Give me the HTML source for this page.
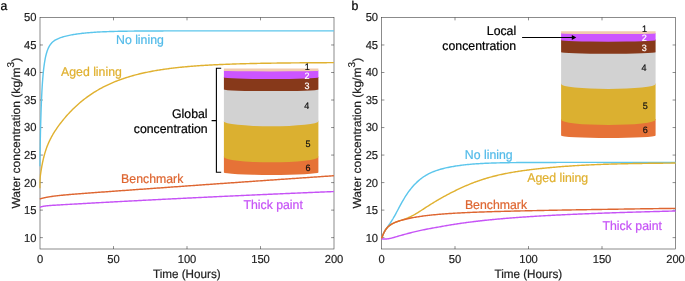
<!DOCTYPE html>
<html lang="en">
<head>
<meta charset="utf-8">
<title>Water concentration vs time</title>
<style>
html,body{margin:0;padding:0;background:#fff;}
body{width:685px;height:281px;overflow:hidden;}
svg{display:block;}
text{font-family:"Liberation Sans","Helvetica","Arial",sans-serif;color:#222222;fill:currentColor;stroke:currentColor;stroke-width:0.22px;stroke-linejoin:round;text-rendering:geometricPrecision;}
.t{font-size:12.3px;}
.k{font-size:11.2px;stroke-width:0.18px;}
.l{stroke-width:0.2px;}
.b{color:#000;}
.d{font-size:9.0px;text-anchor:middle;stroke-width:0.2px;}
.ax{fill:none;stroke:#3a3a3a;stroke-width:0.58;}
.tk{fill:none;stroke:#3a3a3a;stroke-width:0.58;}
.c{fill:none;stroke-width:1.42;stroke-linejoin:round;stroke-linecap:butt;}
</style>
</head>
<body>
<svg width="685" height="281" viewBox="0 0 685 281">
<rect x="0" y="0" width="685" height="281" fill="#ffffff"/>

<g id="axes-a">
<rect class="ax" x="40.0" y="17.45" width="294.00" height="231.55"/>
<path class="tk" d="M40.0,237.64h2.9M334.0,237.64h-2.9M40.0,210.12h2.9M334.0,210.12h-2.9M40.0,182.59h2.9M334.0,182.59h-2.9M40.0,155.07h2.9M334.0,155.07h-2.9M40.0,127.55h2.9M334.0,127.55h-2.9M40.0,100.02h2.9M334.0,100.02h-2.9M40.0,72.50h2.9M334.0,72.50h-2.9M40.0,44.97h2.9M334.0,44.97h-2.9M113.50,17.45v2.9M113.50,249.00v-2.9M187.00,17.45v2.9M187.00,249.00v-2.9M260.50,17.45v2.9M260.50,249.00v-2.9"/>
<text class="k" text-anchor="end" transform="translate(36.40 242.02) scale(1 1.033)">10</text>
<text class="k" text-anchor="end" transform="translate(36.40 214.38) scale(1 1.033)">15</text>
<text class="k" text-anchor="end" transform="translate(36.40 186.74) scale(1 1.033)">20</text>
<text class="k" text-anchor="end" transform="translate(36.40 159.10) scale(1 1.033)">25</text>
<text class="k" text-anchor="end" transform="translate(36.40 131.46) scale(1 1.033)">30</text>
<text class="k" text-anchor="end" transform="translate(36.40 103.82) scale(1 1.033)">35</text>
<text class="k" text-anchor="end" transform="translate(36.40 76.18) scale(1 1.033)">40</text>
<text class="k" text-anchor="end" transform="translate(36.40 48.54) scale(1 1.033)">45</text>
<text class="k" text-anchor="end" transform="translate(36.40 20.90) scale(1 1.033)">50</text>
<text class="k" text-anchor="middle" transform="translate(40.00 262.65) scale(1 1.033)">0</text>
<text class="k" text-anchor="middle" transform="translate(113.50 262.65) scale(1 1.033)">50</text>
<text class="k" text-anchor="middle" transform="translate(187.00 262.65) scale(1 1.033)">100</text>
<text class="k" text-anchor="middle" transform="translate(260.50 262.65) scale(1 1.033)">150</text>
<text class="k" text-anchor="middle" transform="translate(334.00 262.65) scale(1 1.033)">200</text>
<text class="t l" style="font-size:11.7px" text-anchor="middle" transform="translate(186.80 277.70) scale(1 1.033)">Time (Hours)</text>
<text class="t l" style="font-size:11.7px" text-anchor="middle" transform="translate(19.70,133.20) rotate(-90) scale(1.033 1)">Water concentration (kg/m<tspan style="font-size:9.8px" dy="-6.2">3</tspan><tspan dy="6.2">)</tspan></text>
</g>
<g id="axes-b">
<rect class="ax" x="381.5" y="17.45" width="294.00" height="231.55"/>
<path class="tk" d="M381.5,237.64h2.9M675.5,237.64h-2.9M381.5,210.12h2.9M675.5,210.12h-2.9M381.5,182.59h2.9M675.5,182.59h-2.9M381.5,155.07h2.9M675.5,155.07h-2.9M381.5,127.55h2.9M675.5,127.55h-2.9M381.5,100.02h2.9M675.5,100.02h-2.9M381.5,72.50h2.9M675.5,72.50h-2.9M381.5,44.97h2.9M675.5,44.97h-2.9M455.00,17.45v2.9M455.00,249.00v-2.9M528.50,17.45v2.9M528.50,249.00v-2.9M602.00,17.45v2.9M602.00,249.00v-2.9"/>
<text class="k" text-anchor="end" transform="translate(378.10 242.02) scale(1 1.033)">10</text>
<text class="k" text-anchor="end" transform="translate(378.10 214.38) scale(1 1.033)">15</text>
<text class="k" text-anchor="end" transform="translate(378.10 186.74) scale(1 1.033)">20</text>
<text class="k" text-anchor="end" transform="translate(378.10 159.10) scale(1 1.033)">25</text>
<text class="k" text-anchor="end" transform="translate(378.10 131.46) scale(1 1.033)">30</text>
<text class="k" text-anchor="end" transform="translate(378.10 103.82) scale(1 1.033)">35</text>
<text class="k" text-anchor="end" transform="translate(378.10 76.18) scale(1 1.033)">40</text>
<text class="k" text-anchor="end" transform="translate(378.10 48.54) scale(1 1.033)">45</text>
<text class="k" text-anchor="end" transform="translate(378.10 20.90) scale(1 1.033)">50</text>
<text class="k" text-anchor="middle" transform="translate(381.50 262.65) scale(1 1.033)">0</text>
<text class="k" text-anchor="middle" transform="translate(455.00 262.65) scale(1 1.033)">50</text>
<text class="k" text-anchor="middle" transform="translate(528.50 262.65) scale(1 1.033)">100</text>
<text class="k" text-anchor="middle" transform="translate(602.00 262.65) scale(1 1.033)">150</text>
<text class="k" text-anchor="middle" transform="translate(675.50 262.65) scale(1 1.033)">200</text>
<text class="t l" style="font-size:11.7px" text-anchor="middle" transform="translate(528.30 277.70) scale(1 1.033)">Time (Hours)</text>
<text class="t l" style="font-size:11.7px" text-anchor="middle" transform="translate(361.40,133.20) rotate(-90) scale(1.033 1)">Water concentration (kg/m<tspan style="font-size:9.8px" dy="-6.2">3</tspan><tspan dy="6.2">)</tspan></text>
</g>
<clipPath id="clip-a"><rect x="39.3" y="17.45" width="295.20" height="231.20"/></clipPath>
<g clip-path="url(#clip-a)">
<path class="c" stroke="#5cc6ec" d="M39.80,166.21 L39.80,166.09 L39.81,165.73 L39.82,165.12 L39.83,164.29 L39.85,163.22 L39.87,161.94 L39.89,160.44 L39.92,158.75 L39.96,156.86 L39.99,154.80 L40.03,152.58 L40.08,150.21 L40.12,147.71 L40.18,145.10 L40.23,142.38 L40.29,139.59 L40.36,136.72 L40.42,133.80 L40.49,130.84 L40.57,127.85 L40.65,124.86 L40.73,121.86 L40.82,118.88 L40.91,115.93 L41.00,113.00 L41.10,110.12 L41.20,107.29 L41.31,104.52 L41.42,101.81 L41.53,99.17 L41.65,96.60 L41.77,94.10 L41.89,91.68 L42.02,89.34 L42.16,87.08 L42.29,84.90 L42.43,82.80 L42.58,80.77 L42.72,78.83 L42.88,76.96 L43.03,75.17 L43.19,73.45 L43.36,71.80 L43.52,70.22 L43.69,68.70 L43.87,67.25 L44.05,65.87 L44.23,64.54 L44.42,63.26 L44.61,62.05 L44.80,60.88 L45.00,59.77 L45.20,58.71 L45.41,57.69 L45.62,56.71 L45.83,55.78 L46.05,54.89 L46.27,54.04 L46.49,53.23 L46.72,52.46 L46.95,51.71 L47.19,51.01 L47.43,50.33 L47.68,49.68 L47.92,49.06 L48.18,48.48 L48.43,47.91 L48.69,47.38 L48.95,46.86 L49.22,46.37 L49.49,45.91 L49.77,45.46 L50.05,45.03 L50.33,44.63 L50.62,44.24 L50.91,43.86 L51.20,43.51 L51.50,43.17 L51.80,42.84 L52.89,41.81 L53.98,40.94 L55.07,40.21 L56.16,39.58 L57.25,39.03 L58.34,38.54 L59.42,38.10 L60.51,37.70 L61.60,37.33 L62.69,36.99 L63.78,36.67 L64.87,36.37 L65.96,36.10 L67.05,35.83 L68.14,35.59 L69.23,35.35 L70.32,35.13 L71.41,34.92 L72.49,34.72 L73.58,34.53 L74.67,34.35 L75.76,34.18 L76.85,34.02 L77.94,33.87 L79.03,33.72 L80.12,33.58 L81.21,33.45 L82.30,33.32 L83.39,33.20 L84.48,33.09 L85.56,32.98 L86.65,32.88 L87.74,32.78 L88.83,32.69 L89.92,32.60 L91.01,32.51 L92.10,32.43 L93.19,32.36 L94.28,32.28 L95.37,32.21 L96.46,32.15 L97.55,32.08 L98.64,32.02 L99.72,31.97 L100.81,31.91 L101.90,31.86 L102.99,31.81 L104.08,31.77 L105.17,31.72 L106.26,31.68 L107.35,31.64 L108.44,31.60 L109.53,31.57 L110.62,31.53 L111.71,31.50 L112.79,31.47 L113.88,31.44 L114.97,31.41 L116.06,31.38 L117.15,31.36 L118.24,31.33 L119.33,31.31 L120.42,31.29 L121.51,31.27 L122.60,31.25 L123.69,31.23 L124.78,31.21 L125.86,31.19 L126.95,31.18 L128.04,31.16 L129.13,31.15 L130.22,31.13 L131.31,31.12 L132.40,31.10 L133.49,31.09 L134.58,31.08 L135.67,31.07 L136.76,31.06 L137.85,31.05 L138.94,31.04 L140.02,31.03 L141.11,31.02 L142.20,31.01 L143.29,31.01 L144.38,31.00 L145.47,30.99 L146.56,30.99 L147.65,30.98 L148.74,30.97 L149.83,30.97 L150.92,30.96 L152.01,30.96 L153.09,30.95 L154.18,30.95 L155.27,30.94 L156.36,30.94 L157.45,30.93 L158.54,30.93 L159.63,30.93 L160.72,30.92 L161.81,30.92 L162.90,30.92 L163.99,30.91 L165.08,30.91 L166.16,30.91 L167.25,30.91 L168.34,30.90 L169.43,30.90 L170.52,30.90 L171.61,30.90 L172.70,30.89 L173.79,30.89 L174.88,30.89 L175.97,30.89 L177.06,30.89 L178.15,30.89 L179.24,30.88 L180.32,30.88 L181.41,30.88 L182.50,30.88 L183.59,30.88 L184.68,30.88 L185.77,30.88 L186.86,30.88 L187.95,30.87 L189.04,30.87 L190.13,30.87 L191.22,30.87 L192.31,30.87 L193.39,30.87 L194.48,30.87 L195.57,30.87 L196.66,30.87 L197.75,30.87 L198.84,30.87 L199.93,30.87 L201.02,30.87 L202.11,30.87 L203.20,30.86 L204.29,30.86 L205.38,30.86 L206.46,30.86 L207.55,30.86 L208.64,30.86 L209.73,30.86 L210.82,30.86 L211.91,30.86 L213.00,30.86 L214.09,30.86 L215.18,30.86 L216.27,30.86 L217.36,30.86 L218.45,30.86 L219.54,30.86 L220.62,30.86 L221.71,30.86 L222.80,30.86 L223.89,30.86 L224.98,30.86 L226.07,30.86 L227.16,30.86 L228.25,30.86 L229.34,30.86 L230.43,30.86 L231.52,30.86 L232.61,30.86 L233.69,30.86 L234.78,30.86 L235.87,30.86 L236.96,30.86 L238.05,30.86 L239.14,30.86 L240.23,30.86 L241.32,30.86 L242.41,30.86 L243.50,30.86 L244.59,30.86 L245.68,30.86 L246.76,30.86 L247.85,30.86 L248.94,30.86 L250.03,30.86 L251.12,30.86 L252.21,30.86 L253.30,30.86 L254.39,30.86 L255.48,30.86 L256.57,30.86 L257.66,30.86 L258.75,30.86 L259.84,30.86 L260.92,30.86 L262.01,30.86 L263.10,30.86 L264.19,30.86 L265.28,30.86 L266.37,30.86 L267.46,30.86 L268.55,30.86 L269.64,30.86 L270.73,30.86 L271.82,30.86 L272.91,30.86 L273.99,30.86 L275.08,30.86 L276.17,30.86 L277.26,30.86 L278.35,30.86 L279.44,30.86 L280.53,30.86 L281.62,30.86 L282.71,30.86 L283.80,30.86 L284.89,30.86 L285.98,30.86 L287.06,30.86 L288.15,30.86 L289.24,30.86 L290.33,30.86 L291.42,30.86 L292.51,30.86 L293.60,30.86 L294.69,30.86 L295.78,30.86 L296.87,30.86 L297.96,30.86 L299.05,30.86 L300.14,30.86 L301.22,30.86 L302.31,30.86 L303.40,30.86 L304.49,30.86 L305.58,30.86 L306.67,30.86 L307.76,30.86 L308.85,30.86 L309.94,30.86 L311.03,30.86 L312.12,30.86 L313.21,30.86 L314.29,30.86 L315.38,30.86 L316.47,30.86 L317.56,30.86 L318.65,30.86 L319.74,30.86 L320.83,30.86 L321.92,30.86 L323.01,30.86 L324.10,30.86 L325.19,30.86 L326.28,30.86 L327.36,30.86 L328.45,30.86 L329.54,30.86 L330.63,30.86 L331.72,30.86 L332.81,30.86 L333.90,30.86"/>
<path class="c" stroke="#e0b130" d="M39.80,188.29 L39.80,188.15 L39.81,187.74 L39.82,187.08 L39.83,186.23 L39.85,185.25 L39.87,184.20 L39.89,183.12 L39.92,182.08 L39.96,181.09 L39.99,180.19 L40.03,179.37 L40.08,178.63 L40.12,177.96 L40.18,177.35 L40.23,176.77 L40.29,176.23 L40.36,175.70 L40.42,175.17 L40.49,174.64 L40.57,174.10 L40.65,173.54 L40.73,172.98 L40.82,172.40 L40.91,171.80 L41.00,171.19 L41.10,170.57 L41.20,169.94 L41.31,169.29 L41.42,168.64 L41.53,167.97 L41.65,167.30 L41.77,166.62 L41.89,165.93 L42.02,165.24 L42.16,164.54 L42.29,163.84 L42.43,163.14 L42.58,162.43 L42.72,161.73 L42.88,161.02 L43.03,160.31 L43.19,159.60 L43.36,158.90 L43.52,158.20 L43.69,157.50 L43.87,156.80 L44.05,156.10 L44.23,155.41 L44.42,154.72 L44.61,154.04 L44.80,153.36 L45.00,152.69 L45.20,152.02 L45.41,151.36 L45.62,150.70 L45.83,150.05 L46.05,149.40 L46.27,148.76 L46.49,148.12 L46.72,147.49 L46.95,146.87 L47.19,146.25 L47.43,145.63 L47.68,145.03 L47.92,144.42 L48.18,143.82 L48.43,143.23 L48.69,142.64 L48.95,142.05 L49.22,141.47 L49.49,140.89 L49.77,140.32 L50.05,139.75 L50.33,139.19 L50.62,138.62 L50.91,138.07 L51.20,137.51 L51.50,136.96 L51.80,136.41 L52.89,134.49 L53.98,132.68 L55.07,130.96 L56.16,129.30 L57.25,127.71 L58.34,126.17 L59.42,124.68 L60.51,123.24 L61.60,121.83 L62.69,120.47 L63.78,119.14 L64.87,117.84 L65.96,116.57 L67.05,115.34 L68.14,114.13 L69.23,112.96 L70.32,111.81 L71.41,110.68 L72.49,109.59 L73.58,108.52 L74.67,107.47 L75.76,106.45 L76.85,105.45 L77.94,104.47 L79.03,103.52 L80.12,102.58 L81.21,101.67 L82.30,100.78 L83.39,99.91 L84.48,99.06 L85.56,98.23 L86.65,97.42 L87.74,96.62 L88.83,95.85 L89.92,95.09 L91.01,94.35 L92.10,93.62 L93.19,92.92 L94.28,92.22 L95.37,91.55 L96.46,90.89 L97.55,90.24 L98.64,89.61 L99.72,88.99 L100.81,88.39 L101.90,87.80 L102.99,87.23 L104.08,86.66 L105.17,86.11 L106.26,85.58 L107.35,85.05 L108.44,84.54 L109.53,84.04 L110.62,83.55 L111.71,83.07 L112.79,82.60 L113.88,82.14 L114.97,81.69 L116.06,81.26 L117.15,80.83 L118.24,80.41 L119.33,80.00 L120.42,79.61 L121.51,79.22 L122.60,78.84 L123.69,78.46 L124.78,78.10 L125.86,77.74 L126.95,77.40 L128.04,77.06 L129.13,76.73 L130.22,76.40 L131.31,76.08 L132.40,75.78 L133.49,75.47 L134.58,75.18 L135.67,74.89 L136.76,74.61 L137.85,74.33 L138.94,74.06 L140.02,73.80 L141.11,73.54 L142.20,73.29 L143.29,73.04 L144.38,72.80 L145.47,72.56 L146.56,72.33 L147.65,72.11 L148.74,71.89 L149.83,71.68 L150.92,71.47 L152.01,71.26 L153.09,71.06 L154.18,70.87 L155.27,70.67 L156.36,70.49 L157.45,70.31 L158.54,70.13 L159.63,69.95 L160.72,69.78 L161.81,69.62 L162.90,69.45 L163.99,69.29 L165.08,69.14 L166.16,68.99 L167.25,68.84 L168.34,68.69 L169.43,68.55 L170.52,68.41 L171.61,68.28 L172.70,68.14 L173.79,68.01 L174.88,67.89 L175.97,67.76 L177.06,67.64 L178.15,67.53 L179.24,67.41 L180.32,67.30 L181.41,67.19 L182.50,67.08 L183.59,66.97 L184.68,66.87 L185.77,66.77 L186.86,66.67 L187.95,66.58 L189.04,66.48 L190.13,66.39 L191.22,66.30 L192.31,66.21 L193.39,66.13 L194.48,66.04 L195.57,65.96 L196.66,65.88 L197.75,65.80 L198.84,65.73 L199.93,65.65 L201.02,65.58 L202.11,65.51 L203.20,65.44 L204.29,65.37 L205.38,65.31 L206.46,65.24 L207.55,65.18 L208.64,65.12 L209.73,65.05 L210.82,65.00 L211.91,64.94 L213.00,64.88 L214.09,64.83 L215.18,64.77 L216.27,64.72 L217.36,64.67 L218.45,64.62 L219.54,64.57 L220.62,64.52 L221.71,64.47 L222.80,64.43 L223.89,64.38 L224.98,64.34 L226.07,64.29 L227.16,64.25 L228.25,64.21 L229.34,64.17 L230.43,64.13 L231.52,64.09 L232.61,64.06 L233.69,64.02 L234.78,63.98 L235.87,63.95 L236.96,63.91 L238.05,63.88 L239.14,63.85 L240.23,63.82 L241.32,63.79 L242.41,63.75 L243.50,63.73 L244.59,63.70 L245.68,63.67 L246.76,63.64 L247.85,63.61 L248.94,63.59 L250.03,63.56 L251.12,63.53 L252.21,63.51 L253.30,63.49 L254.39,63.46 L255.48,63.44 L256.57,63.42 L257.66,63.39 L258.75,63.37 L259.84,63.35 L260.92,63.33 L262.01,63.31 L263.10,63.29 L264.19,63.27 L265.28,63.25 L266.37,63.23 L267.46,63.22 L268.55,63.20 L269.64,63.18 L270.73,63.17 L271.82,63.15 L272.91,63.13 L273.99,63.12 L275.08,63.10 L276.17,63.09 L277.26,63.07 L278.35,63.06 L279.44,63.04 L280.53,63.03 L281.62,63.02 L282.71,63.00 L283.80,62.99 L284.89,62.98 L285.98,62.97 L287.06,62.96 L288.15,62.94 L289.24,62.93 L290.33,62.92 L291.42,62.91 L292.51,62.90 L293.60,62.89 L294.69,62.88 L295.78,62.87 L296.87,62.86 L297.96,62.85 L299.05,62.84 L300.14,62.83 L301.22,62.82 L302.31,62.81 L303.40,62.81 L304.49,62.80 L305.58,62.79 L306.67,62.78 L307.76,62.77 L308.85,62.77 L309.94,62.76 L311.03,62.75 L312.12,62.75 L313.21,62.74 L314.29,62.73 L315.38,62.73 L316.47,62.72 L317.56,62.71 L318.65,62.71 L319.74,62.70 L320.83,62.69 L321.92,62.69 L323.01,62.68 L324.10,62.68 L325.19,62.67 L326.28,62.67 L327.36,62.66 L328.45,62.66 L329.54,62.65 L330.63,62.65 L331.72,62.64 L332.81,62.64 L333.90,62.63"/>
<path class="c" stroke="#de6631" d="M39.80,198.96 L39.80,198.96 L39.81,198.96 L39.82,198.95 L39.83,198.95 L39.85,198.94 L39.87,198.94 L39.89,198.93 L39.92,198.92 L39.96,198.91 L39.99,198.90 L40.03,198.89 L40.08,198.87 L40.12,198.86 L40.18,198.84 L40.23,198.83 L40.29,198.81 L40.36,198.79 L40.42,198.77 L40.49,198.75 L40.57,198.73 L40.65,198.70 L40.73,198.68 L40.82,198.66 L40.91,198.63 L41.00,198.60 L41.10,198.58 L41.20,198.55 L41.31,198.52 L41.42,198.49 L41.53,198.46 L41.65,198.42 L41.77,198.39 L41.89,198.36 L42.02,198.33 L42.16,198.29 L42.29,198.26 L42.43,198.22 L42.58,198.18 L42.72,198.15 L42.88,198.11 L43.03,198.07 L43.19,198.03 L43.36,197.99 L43.52,197.95 L43.69,197.91 L43.87,197.87 L44.05,197.83 L44.23,197.79 L44.42,197.75 L44.61,197.71 L44.80,197.66 L45.00,197.62 L45.20,197.58 L45.41,197.54 L45.62,197.49 L45.83,197.45 L46.05,197.41 L46.27,197.36 L46.49,197.32 L46.72,197.27 L46.95,197.23 L47.19,197.19 L47.43,197.14 L47.68,197.10 L47.92,197.05 L48.18,197.01 L48.43,196.96 L48.69,196.92 L48.95,196.88 L49.22,196.83 L49.49,196.79 L49.77,196.74 L50.05,196.70 L50.33,196.65 L50.62,196.61 L50.91,196.57 L51.20,196.52 L51.50,196.48 L51.80,196.43 L52.89,196.28 L53.98,196.14 L55.07,196.00 L56.16,195.87 L57.25,195.74 L58.34,195.62 L59.42,195.50 L60.51,195.39 L61.60,195.28 L62.69,195.17 L63.78,195.07 L64.87,194.97 L65.96,194.87 L67.05,194.77 L68.14,194.67 L69.23,194.58 L70.32,194.49 L71.41,194.40 L72.49,194.31 L73.58,194.22 L74.67,194.13 L75.76,194.05 L76.85,193.96 L77.94,193.87 L79.03,193.79 L80.12,193.71 L81.21,193.62 L82.30,193.54 L83.39,193.46 L84.48,193.37 L85.56,193.29 L86.65,193.21 L87.74,193.13 L88.83,193.05 L89.92,192.97 L91.01,192.88 L92.10,192.80 L93.19,192.72 L94.28,192.64 L95.37,192.56 L96.46,192.48 L97.55,192.40 L98.64,192.32 L99.72,192.24 L100.81,192.16 L101.90,192.08 L102.99,192.00 L104.08,191.92 L105.17,191.84 L106.26,191.77 L107.35,191.69 L108.44,191.61 L109.53,191.53 L110.62,191.45 L111.71,191.37 L112.79,191.29 L113.88,191.21 L114.97,191.13 L116.06,191.05 L117.15,190.97 L118.24,190.89 L119.33,190.82 L120.42,190.74 L121.51,190.66 L122.60,190.58 L123.69,190.50 L124.78,190.42 L125.86,190.34 L126.95,190.26 L128.04,190.19 L129.13,190.11 L130.22,190.03 L131.31,189.95 L132.40,189.87 L133.49,189.79 L134.58,189.71 L135.67,189.64 L136.76,189.56 L137.85,189.48 L138.94,189.40 L140.02,189.32 L141.11,189.24 L142.20,189.17 L143.29,189.09 L144.38,189.01 L145.47,188.93 L146.56,188.85 L147.65,188.77 L148.74,188.70 L149.83,188.62 L150.92,188.54 L152.01,188.46 L153.09,188.38 L154.18,188.31 L155.27,188.23 L156.36,188.15 L157.45,188.07 L158.54,187.99 L159.63,187.92 L160.72,187.84 L161.81,187.76 L162.90,187.68 L163.99,187.60 L165.08,187.53 L166.16,187.45 L167.25,187.37 L168.34,187.29 L169.43,187.22 L170.52,187.14 L171.61,187.06 L172.70,186.98 L173.79,186.90 L174.88,186.83 L175.97,186.75 L177.06,186.67 L178.15,186.59 L179.24,186.52 L180.32,186.44 L181.41,186.36 L182.50,186.28 L183.59,186.21 L184.68,186.13 L185.77,186.05 L186.86,185.97 L187.95,185.90 L189.04,185.82 L190.13,185.74 L191.22,185.66 L192.31,185.59 L193.39,185.51 L194.48,185.43 L195.57,185.36 L196.66,185.28 L197.75,185.20 L198.84,185.12 L199.93,185.05 L201.02,184.97 L202.11,184.89 L203.20,184.82 L204.29,184.74 L205.38,184.66 L206.46,184.58 L207.55,184.51 L208.64,184.43 L209.73,184.35 L210.82,184.28 L211.91,184.20 L213.00,184.12 L214.09,184.05 L215.18,183.97 L216.27,183.89 L217.36,183.82 L218.45,183.74 L219.54,183.66 L220.62,183.58 L221.71,183.51 L222.80,183.43 L223.89,183.35 L224.98,183.28 L226.07,183.20 L227.16,183.12 L228.25,183.05 L229.34,182.97 L230.43,182.90 L231.52,182.82 L232.61,182.74 L233.69,182.67 L234.78,182.59 L235.87,182.51 L236.96,182.44 L238.05,182.36 L239.14,182.28 L240.23,182.21 L241.32,182.13 L242.41,182.05 L243.50,181.98 L244.59,181.90 L245.68,181.83 L246.76,181.75 L247.85,181.67 L248.94,181.60 L250.03,181.52 L251.12,181.44 L252.21,181.37 L253.30,181.29 L254.39,181.22 L255.48,181.14 L256.57,181.06 L257.66,180.99 L258.75,180.91 L259.84,180.84 L260.92,180.76 L262.01,180.68 L263.10,180.61 L264.19,180.53 L265.28,180.46 L266.37,180.38 L267.46,180.31 L268.55,180.23 L269.64,180.15 L270.73,180.08 L271.82,180.00 L272.91,179.93 L273.99,179.85 L275.08,179.78 L276.17,179.70 L277.26,179.62 L278.35,179.55 L279.44,179.47 L280.53,179.40 L281.62,179.32 L282.71,179.25 L283.80,179.17 L284.89,179.10 L285.98,179.02 L287.06,178.94 L288.15,178.87 L289.24,178.79 L290.33,178.72 L291.42,178.64 L292.51,178.57 L293.60,178.49 L294.69,178.42 L295.78,178.34 L296.87,178.27 L297.96,178.19 L299.05,178.12 L300.14,178.04 L301.22,177.97 L302.31,177.89 L303.40,177.82 L304.49,177.74 L305.58,177.67 L306.67,177.59 L307.76,177.52 L308.85,177.44 L309.94,177.37 L311.03,177.29 L312.12,177.22 L313.21,177.14 L314.29,177.07 L315.38,176.99 L316.47,176.92 L317.56,176.84 L318.65,176.77 L319.74,176.69 L320.83,176.62 L321.92,176.54 L323.01,176.47 L324.10,176.39 L325.19,176.32 L326.28,176.24 L327.36,176.17 L328.45,176.09 L329.54,176.02 L330.63,175.94 L331.72,175.87 L332.81,175.80 L333.90,175.72"/>
<path class="c" stroke="#c653f6" d="M39.80,207.30 L39.80,207.30 L39.81,207.30 L39.82,207.30 L39.83,207.29 L39.85,207.28 L39.87,207.27 L39.89,207.26 L39.92,207.25 L39.96,207.24 L39.99,207.22 L40.03,207.21 L40.08,207.19 L40.12,207.17 L40.18,207.15 L40.23,207.13 L40.29,207.11 L40.36,207.09 L40.42,207.06 L40.49,207.04 L40.57,207.01 L40.65,206.98 L40.73,206.96 L40.82,206.93 L40.91,206.90 L41.00,206.87 L41.10,206.84 L41.20,206.81 L41.31,206.78 L41.42,206.75 L41.53,206.71 L41.65,206.68 L41.77,206.65 L41.89,206.62 L42.02,206.59 L42.16,206.55 L42.29,206.52 L42.43,206.49 L42.58,206.46 L42.72,206.42 L42.88,206.39 L43.03,206.36 L43.19,206.33 L43.36,206.30 L43.52,206.27 L43.69,206.24 L43.87,206.21 L44.05,206.18 L44.23,206.15 L44.42,206.12 L44.61,206.09 L44.80,206.06 L45.00,206.03 L45.20,206.00 L45.41,205.98 L45.62,205.95 L45.83,205.92 L46.05,205.90 L46.27,205.87 L46.49,205.85 L46.72,205.82 L46.95,205.80 L47.19,205.77 L47.43,205.75 L47.68,205.72 L47.92,205.70 L48.18,205.68 L48.43,205.65 L48.69,205.63 L48.95,205.61 L49.22,205.59 L49.49,205.56 L49.77,205.54 L50.05,205.52 L50.33,205.50 L50.62,205.48 L50.91,205.46 L51.20,205.43 L51.50,205.41 L51.80,205.39 L52.89,205.32 L53.98,205.25 L55.07,205.18 L56.16,205.11 L57.25,205.04 L58.34,204.98 L59.42,204.92 L60.51,204.85 L61.60,204.79 L62.69,204.72 L63.78,204.66 L64.87,204.60 L65.96,204.54 L67.05,204.47 L68.14,204.41 L69.23,204.35 L70.32,204.29 L71.41,204.23 L72.49,204.16 L73.58,204.10 L74.67,204.04 L75.76,203.98 L76.85,203.92 L77.94,203.86 L79.03,203.79 L80.12,203.73 L81.21,203.67 L82.30,203.61 L83.39,203.55 L84.48,203.49 L85.56,203.43 L86.65,203.37 L87.74,203.31 L88.83,203.25 L89.92,203.19 L91.01,203.13 L92.10,203.07 L93.19,203.01 L94.28,202.95 L95.37,202.89 L96.46,202.83 L97.55,202.77 L98.64,202.71 L99.72,202.65 L100.81,202.59 L101.90,202.53 L102.99,202.47 L104.08,202.41 L105.17,202.35 L106.26,202.29 L107.35,202.23 L108.44,202.17 L109.53,202.11 L110.62,202.05 L111.71,202.00 L112.79,201.94 L113.88,201.88 L114.97,201.82 L116.06,201.76 L117.15,201.70 L118.24,201.64 L119.33,201.59 L120.42,201.53 L121.51,201.47 L122.60,201.41 L123.69,201.35 L124.78,201.30 L125.86,201.24 L126.95,201.18 L128.04,201.12 L129.13,201.07 L130.22,201.01 L131.31,200.95 L132.40,200.89 L133.49,200.84 L134.58,200.78 L135.67,200.72 L136.76,200.67 L137.85,200.61 L138.94,200.55 L140.02,200.50 L141.11,200.44 L142.20,200.38 L143.29,200.33 L144.38,200.27 L145.47,200.21 L146.56,200.16 L147.65,200.10 L148.74,200.04 L149.83,199.99 L150.92,199.93 L152.01,199.88 L153.09,199.82 L154.18,199.77 L155.27,199.71 L156.36,199.65 L157.45,199.60 L158.54,199.54 L159.63,199.49 L160.72,199.43 L161.81,199.38 L162.90,199.32 L163.99,199.27 L165.08,199.21 L166.16,199.16 L167.25,199.10 L168.34,199.05 L169.43,198.99 L170.52,198.94 L171.61,198.88 L172.70,198.83 L173.79,198.78 L174.88,198.72 L175.97,198.67 L177.06,198.61 L178.15,198.56 L179.24,198.50 L180.32,198.45 L181.41,198.40 L182.50,198.34 L183.59,198.29 L184.68,198.24 L185.77,198.18 L186.86,198.13 L187.95,198.08 L189.04,198.02 L190.13,197.97 L191.22,197.92 L192.31,197.86 L193.39,197.81 L194.48,197.76 L195.57,197.70 L196.66,197.65 L197.75,197.60 L198.84,197.55 L199.93,197.49 L201.02,197.44 L202.11,197.39 L203.20,197.34 L204.29,197.28 L205.38,197.23 L206.46,197.18 L207.55,197.13 L208.64,197.07 L209.73,197.02 L210.82,196.97 L211.91,196.92 L213.00,196.87 L214.09,196.82 L215.18,196.76 L216.27,196.71 L217.36,196.66 L218.45,196.61 L219.54,196.56 L220.62,196.51 L221.71,196.46 L222.80,196.40 L223.89,196.35 L224.98,196.30 L226.07,196.25 L227.16,196.20 L228.25,196.15 L229.34,196.10 L230.43,196.05 L231.52,196.00 L232.61,195.95 L233.69,195.90 L234.78,195.85 L235.87,195.80 L236.96,195.75 L238.05,195.70 L239.14,195.65 L240.23,195.60 L241.32,195.55 L242.41,195.50 L243.50,195.45 L244.59,195.40 L245.68,195.35 L246.76,195.30 L247.85,195.25 L248.94,195.20 L250.03,195.15 L251.12,195.10 L252.21,195.05 L253.30,195.00 L254.39,194.95 L255.48,194.90 L256.57,194.85 L257.66,194.81 L258.75,194.76 L259.84,194.71 L260.92,194.66 L262.01,194.61 L263.10,194.56 L264.19,194.51 L265.28,194.47 L266.37,194.42 L267.46,194.37 L268.55,194.32 L269.64,194.27 L270.73,194.22 L271.82,194.18 L272.91,194.13 L273.99,194.08 L275.08,194.03 L276.17,193.98 L277.26,193.94 L278.35,193.89 L279.44,193.84 L280.53,193.79 L281.62,193.75 L282.71,193.70 L283.80,193.65 L284.89,193.60 L285.98,193.56 L287.06,193.51 L288.15,193.46 L289.24,193.42 L290.33,193.37 L291.42,193.32 L292.51,193.28 L293.60,193.23 L294.69,193.18 L295.78,193.14 L296.87,193.09 L297.96,193.04 L299.05,193.00 L300.14,192.95 L301.22,192.90 L302.31,192.86 L303.40,192.81 L304.49,192.76 L305.58,192.72 L306.67,192.67 L307.76,192.63 L308.85,192.58 L309.94,192.54 L311.03,192.49 L312.12,192.44 L313.21,192.40 L314.29,192.35 L315.38,192.31 L316.47,192.26 L317.56,192.22 L318.65,192.17 L319.74,192.13 L320.83,192.08 L321.92,192.04 L323.01,191.99 L324.10,191.95 L325.19,191.90 L326.28,191.86 L327.36,191.81 L328.45,191.77 L329.54,191.72 L330.63,191.68 L331.72,191.63 L332.81,191.59 L333.90,191.54"/>
</g>
<clipPath id="clip-b"><rect x="380.8" y="17.45" width="295.20" height="231.20"/></clipPath>
<g clip-path="url(#clip-b)">
<path class="c" stroke="#5cc6ec" d="M381.57,238.70 L381.57,238.70 L381.58,238.68 L381.59,238.65 L381.60,238.61 L381.62,238.56 L381.64,238.50 L381.66,238.42 L381.69,238.34 L381.73,238.24 L381.76,238.13 L381.80,238.01 L381.85,237.88 L381.89,237.74 L381.95,237.59 L382.00,237.43 L382.06,237.26 L382.13,237.08 L382.19,236.89 L382.26,236.69 L382.34,236.49 L382.42,236.27 L382.50,236.05 L382.59,235.82 L382.68,235.59 L382.77,235.35 L382.87,235.10 L382.97,234.85 L383.08,234.59 L383.19,234.33 L383.30,234.06 L383.42,233.80 L383.54,233.53 L383.66,233.25 L383.79,232.98 L383.93,232.70 L384.06,232.43 L384.20,232.15 L384.35,231.87 L384.49,231.60 L384.65,231.32 L384.80,231.04 L384.96,230.76 L385.13,230.49 L385.29,230.21 L385.46,229.93 L385.64,229.65 L385.82,229.37 L386.00,229.08 L386.19,228.80 L386.38,228.52 L386.57,228.23 L386.77,227.94 L386.97,227.65 L387.18,227.35 L387.39,227.05 L387.60,226.75 L387.82,226.45 L388.04,226.14 L388.26,225.83 L388.49,225.51 L388.72,225.18 L388.96,224.85 L389.20,224.52 L389.45,224.17 L389.69,223.82 L389.95,223.46 L390.20,223.09 L390.46,222.71 L390.72,222.32 L390.99,221.92 L391.26,221.51 L391.54,221.08 L391.82,220.64 L392.10,220.19 L392.39,219.73 L392.68,219.25 L392.97,218.75 L393.27,218.25 L393.57,217.72 L394.66,215.79 L395.75,213.81 L396.84,211.78 L397.93,209.74 L399.01,207.69 L400.10,205.66 L401.19,203.66 L402.28,201.71 L403.37,199.81 L404.46,197.99 L405.55,196.23 L406.64,194.56 L407.73,192.96 L408.81,191.43 L409.90,189.98 L410.99,188.60 L412.08,187.29 L413.17,186.04 L414.26,184.85 L415.35,183.71 L416.44,182.63 L417.53,181.61 L418.62,180.63 L419.70,179.70 L420.79,178.82 L421.88,178.00 L422.97,177.21 L424.06,176.48 L425.15,175.78 L426.24,175.13 L427.33,174.51 L428.42,173.93 L429.50,173.38 L430.59,172.86 L431.68,172.37 L432.77,171.91 L433.86,171.48 L434.95,171.06 L436.04,170.67 L437.13,170.30 L438.22,169.95 L439.30,169.62 L440.39,169.30 L441.48,169.00 L442.57,168.71 L443.66,168.44 L444.75,168.17 L445.84,167.92 L446.93,167.68 L448.02,167.45 L449.10,167.23 L450.19,167.02 L451.28,166.81 L452.37,166.62 L453.46,166.43 L454.55,166.25 L455.64,166.07 L456.73,165.90 L457.82,165.74 L458.91,165.59 L459.99,165.44 L461.08,165.30 L462.17,165.16 L463.26,165.03 L464.35,164.90 L465.44,164.78 L466.53,164.66 L467.62,164.55 L468.71,164.45 L469.79,164.35 L470.88,164.25 L471.97,164.16 L473.06,164.07 L474.15,163.98 L475.24,163.90 L476.33,163.83 L477.42,163.75 L478.51,163.68 L479.59,163.62 L480.68,163.55 L481.77,163.49 L482.86,163.44 L483.95,163.38 L485.04,163.33 L486.13,163.28 L487.22,163.24 L488.31,163.19 L489.39,163.15 L490.48,163.11 L491.57,163.07 L492.66,163.04 L493.75,163.00 L494.84,162.97 L495.93,162.94 L497.02,162.91 L498.11,162.88 L499.20,162.86 L500.28,162.83 L501.37,162.81 L502.46,162.79 L503.55,162.77 L504.64,162.74 L505.73,162.73 L506.82,162.71 L507.91,162.69 L509.00,162.67 L510.08,162.66 L511.17,162.64 L512.26,162.63 L513.35,162.62 L514.44,162.60 L515.53,162.59 L516.62,162.58 L517.71,162.57 L518.80,162.56 L519.88,162.55 L520.97,162.54 L522.06,162.53 L523.15,162.52 L524.24,162.52 L525.33,162.51 L526.42,162.50 L527.51,162.50 L528.60,162.49 L529.68,162.49 L530.77,162.48 L531.86,162.47 L532.95,162.47 L534.04,162.47 L535.13,162.46 L536.22,162.46 L537.31,162.45 L538.40,162.45 L539.49,162.45 L540.57,162.44 L541.66,162.44 L542.75,162.44 L543.84,162.44 L544.93,162.43 L546.02,162.43 L547.11,162.43 L548.20,162.43 L549.29,162.43 L550.37,162.42 L551.46,162.42 L552.55,162.42 L553.64,162.42 L554.73,162.42 L555.82,162.42 L556.91,162.41 L558.00,162.41 L559.09,162.41 L560.17,162.41 L561.26,162.41 L562.35,162.41 L563.44,162.41 L564.53,162.41 L565.62,162.41 L566.71,162.41 L567.80,162.41 L568.89,162.40 L569.97,162.40 L571.06,162.40 L572.15,162.40 L573.24,162.40 L574.33,162.40 L575.42,162.40 L576.51,162.40 L577.60,162.40 L578.69,162.40 L579.78,162.40 L580.86,162.40 L581.95,162.40 L583.04,162.40 L584.13,162.40 L585.22,162.40 L586.31,162.41 L587.40,162.41 L588.49,162.41 L589.58,162.41 L590.66,162.41 L591.75,162.41 L592.84,162.41 L593.93,162.41 L595.02,162.41 L596.11,162.41 L597.20,162.41 L598.29,162.41 L599.38,162.41 L600.46,162.41 L601.55,162.41 L602.64,162.41 L603.73,162.42 L604.82,162.42 L605.91,162.42 L607.00,162.42 L608.09,162.42 L609.18,162.42 L610.26,162.42 L611.35,162.42 L612.44,162.42 L613.53,162.42 L614.62,162.43 L615.71,162.43 L616.80,162.43 L617.89,162.43 L618.98,162.43 L620.07,162.43 L621.15,162.43 L622.24,162.43 L623.33,162.44 L624.42,162.44 L625.51,162.44 L626.60,162.44 L627.69,162.44 L628.78,162.44 L629.87,162.44 L630.95,162.44 L632.04,162.44 L633.13,162.45 L634.22,162.45 L635.31,162.45 L636.40,162.45 L637.49,162.45 L638.58,162.45 L639.67,162.45 L640.75,162.46 L641.84,162.46 L642.93,162.46 L644.02,162.46 L645.11,162.46 L646.20,162.46 L647.29,162.46 L648.38,162.46 L649.47,162.47 L650.55,162.47 L651.64,162.47 L652.73,162.47 L653.82,162.47 L654.91,162.47 L656.00,162.47 L657.09,162.48 L658.18,162.48 L659.27,162.48 L660.36,162.48 L661.44,162.48 L662.53,162.48 L663.62,162.48 L664.71,162.48 L665.80,162.49 L666.89,162.49 L667.98,162.49 L669.07,162.49 L670.16,162.49 L671.24,162.49 L672.33,162.49 L673.42,162.50 L674.51,162.50 L675.60,162.50"/>
<path class="c" stroke="#e0b130" d="M381.57,238.73 L381.57,238.73 L381.58,238.71 L381.59,238.68 L381.60,238.64 L381.62,238.59 L381.64,238.53 L381.66,238.45 L381.69,238.37 L381.73,238.27 L381.76,238.17 L381.80,238.05 L381.85,237.92 L381.89,237.79 L381.95,237.64 L382.00,237.48 L382.06,237.31 L382.13,237.14 L382.19,236.95 L382.26,236.75 L382.34,236.55 L382.42,236.34 L382.50,236.12 L382.59,235.89 L382.68,235.66 L382.77,235.42 L382.87,235.17 L382.97,234.92 L383.08,234.66 L383.19,234.40 L383.30,234.13 L383.42,233.86 L383.54,233.59 L383.66,233.31 L383.79,233.04 L383.93,232.76 L384.06,232.48 L384.20,232.20 L384.35,231.92 L384.49,231.64 L384.65,231.37 L384.80,231.09 L384.96,230.82 L385.13,230.54 L385.29,230.27 L385.46,230.01 L385.64,229.74 L385.82,229.48 L386.00,229.22 L386.19,228.97 L386.38,228.72 L386.57,228.47 L386.77,228.23 L386.97,227.99 L387.18,227.75 L387.39,227.52 L387.60,227.29 L387.82,227.07 L388.04,226.85 L388.26,226.64 L388.49,226.43 L388.72,226.22 L388.96,226.02 L389.20,225.82 L389.45,225.63 L389.69,225.43 L389.95,225.25 L390.20,225.06 L390.46,224.88 L390.72,224.71 L390.99,224.53 L391.26,224.36 L391.54,224.20 L391.82,224.04 L392.10,223.88 L392.39,223.72 L392.68,223.56 L392.97,223.41 L393.27,223.27 L393.57,223.12 L394.66,222.63 L395.75,222.18 L396.84,221.78 L397.93,221.40 L399.01,221.04 L400.10,220.69 L401.19,220.34 L402.28,219.98 L403.37,219.61 L404.46,219.23 L405.55,218.83 L406.64,218.41 L407.73,217.97 L408.81,217.50 L409.90,217.01 L410.99,216.49 L412.08,215.93 L413.17,215.35 L414.26,214.75 L415.35,214.12 L416.44,213.48 L417.53,212.81 L418.62,212.13 L419.70,211.44 L420.79,210.74 L421.88,210.03 L422.97,209.33 L424.06,208.62 L425.15,207.91 L426.24,207.20 L427.33,206.50 L428.42,205.80 L429.50,205.11 L430.59,204.42 L431.68,203.74 L432.77,203.07 L433.86,202.40 L434.95,201.74 L436.04,201.09 L437.13,200.45 L438.22,199.81 L439.30,199.18 L440.39,198.55 L441.48,197.93 L442.57,197.32 L443.66,196.72 L444.75,196.12 L445.84,195.53 L446.93,194.94 L448.02,194.36 L449.10,193.79 L450.19,193.23 L451.28,192.67 L452.37,192.11 L453.46,191.56 L454.55,191.02 L455.64,190.49 L456.73,189.96 L457.82,189.44 L458.91,188.92 L459.99,188.41 L461.08,187.91 L462.17,187.41 L463.26,186.92 L464.35,186.44 L465.44,185.96 L466.53,185.50 L467.62,185.04 L468.71,184.58 L469.79,184.14 L470.88,183.70 L471.97,183.27 L473.06,182.85 L474.15,182.43 L475.24,182.02 L476.33,181.62 L477.42,181.23 L478.51,180.85 L479.59,180.47 L480.68,180.10 L481.77,179.74 L482.86,179.38 L483.95,179.04 L485.04,178.70 L486.13,178.37 L487.22,178.04 L488.31,177.72 L489.39,177.41 L490.48,177.11 L491.57,176.82 L492.66,176.53 L493.75,176.24 L494.84,175.97 L495.93,175.70 L497.02,175.44 L498.11,175.18 L499.20,174.93 L500.28,174.68 L501.37,174.44 L502.46,174.21 L503.55,173.98 L504.64,173.76 L505.73,173.54 L506.82,173.33 L507.91,173.12 L509.00,172.92 L510.08,172.72 L511.17,172.53 L512.26,172.34 L513.35,172.15 L514.44,171.97 L515.53,171.80 L516.62,171.62 L517.71,171.45 L518.80,171.29 L519.88,171.12 L520.97,170.96 L522.06,170.81 L523.15,170.65 L524.24,170.50 L525.33,170.36 L526.42,170.21 L527.51,170.07 L528.60,169.93 L529.68,169.79 L530.77,169.66 L531.86,169.53 L532.95,169.40 L534.04,169.27 L535.13,169.14 L536.22,169.02 L537.31,168.90 L538.40,168.78 L539.49,168.66 L540.57,168.55 L541.66,168.43 L542.75,168.32 L543.84,168.21 L544.93,168.10 L546.02,167.99 L547.11,167.89 L548.20,167.78 L549.29,167.68 L550.37,167.58 L551.46,167.48 L552.55,167.38 L553.64,167.28 L554.73,167.19 L555.82,167.10 L556.91,167.00 L558.00,166.91 L559.09,166.83 L560.17,166.74 L561.26,166.65 L562.35,166.57 L563.44,166.48 L564.53,166.40 L565.62,166.32 L566.71,166.24 L567.80,166.17 L568.89,166.09 L569.97,166.02 L571.06,165.94 L572.15,165.87 L573.24,165.80 L574.33,165.73 L575.42,165.66 L576.51,165.60 L577.60,165.53 L578.69,165.47 L579.78,165.41 L580.86,165.34 L581.95,165.28 L583.04,165.22 L584.13,165.17 L585.22,165.11 L586.31,165.06 L587.40,165.00 L588.49,164.95 L589.58,164.90 L590.66,164.85 L591.75,164.80 L592.84,164.75 L593.93,164.70 L595.02,164.65 L596.11,164.61 L597.20,164.56 L598.29,164.52 L599.38,164.48 L600.46,164.44 L601.55,164.40 L602.64,164.36 L603.73,164.32 L604.82,164.28 L605.91,164.24 L607.00,164.21 L608.09,164.17 L609.18,164.14 L610.26,164.11 L611.35,164.07 L612.44,164.04 L613.53,164.01 L614.62,163.98 L615.71,163.95 L616.80,163.92 L617.89,163.89 L618.98,163.87 L620.07,163.84 L621.15,163.81 L622.24,163.79 L623.33,163.76 L624.42,163.74 L625.51,163.72 L626.60,163.69 L627.69,163.67 L628.78,163.65 L629.87,163.63 L630.95,163.61 L632.04,163.59 L633.13,163.57 L634.22,163.55 L635.31,163.53 L636.40,163.51 L637.49,163.49 L638.58,163.47 L639.67,163.46 L640.75,163.44 L641.84,163.42 L642.93,163.41 L644.02,163.39 L645.11,163.38 L646.20,163.36 L647.29,163.35 L648.38,163.33 L649.47,163.32 L650.55,163.30 L651.64,163.29 L652.73,163.28 L653.82,163.26 L654.91,163.25 L656.00,163.24 L657.09,163.23 L658.18,163.21 L659.27,163.20 L660.36,163.19 L661.44,163.18 L662.53,163.17 L663.62,163.16 L664.71,163.14 L665.80,163.13 L666.89,163.12 L667.98,163.11 L669.07,163.10 L670.16,163.09 L671.24,163.08 L672.33,163.07 L673.42,163.06 L674.51,163.05 L675.60,163.04"/>
<path class="c" stroke="#de6631" d="M381.57,238.82 L381.57,238.81 L381.58,238.80 L381.59,238.76 L381.60,238.72 L381.62,238.66 L381.64,238.59 L381.66,238.51 L381.69,238.42 L381.73,238.31 L381.76,238.20 L381.80,238.07 L381.85,237.93 L381.89,237.78 L381.95,237.62 L382.00,237.45 L382.06,237.27 L382.13,237.08 L382.19,236.88 L382.26,236.68 L382.34,236.47 L382.42,236.25 L382.50,236.02 L382.59,235.79 L382.68,235.55 L382.77,235.30 L382.87,235.05 L382.97,234.80 L383.08,234.54 L383.19,234.28 L383.30,234.01 L383.42,233.75 L383.54,233.48 L383.66,233.21 L383.79,232.94 L383.93,232.66 L384.06,232.39 L384.20,232.12 L384.35,231.84 L384.49,231.57 L384.65,231.30 L384.80,231.03 L384.96,230.76 L385.13,230.49 L385.29,230.23 L385.46,229.97 L385.64,229.71 L385.82,229.45 L386.00,229.20 L386.19,228.95 L386.38,228.70 L386.57,228.46 L386.77,228.22 L386.97,227.98 L387.18,227.75 L387.39,227.52 L387.60,227.29 L387.82,227.07 L388.04,226.85 L388.26,226.64 L388.49,226.43 L388.72,226.23 L388.96,226.02 L389.20,225.83 L389.45,225.63 L389.69,225.44 L389.95,225.25 L390.20,225.07 L390.46,224.89 L390.72,224.71 L390.99,224.54 L391.26,224.37 L391.54,224.20 L391.82,224.04 L392.10,223.88 L392.39,223.72 L392.68,223.57 L392.97,223.42 L393.27,223.27 L393.57,223.12 L394.66,222.62 L395.75,222.17 L396.84,221.75 L397.93,221.36 L399.01,221.00 L400.10,220.66 L401.19,220.34 L402.28,220.04 L403.37,219.75 L404.46,219.47 L405.55,219.21 L406.64,218.95 L407.73,218.71 L408.81,218.47 L409.90,218.25 L410.99,218.03 L412.08,217.82 L413.17,217.62 L414.26,217.42 L415.35,217.23 L416.44,217.05 L417.53,216.87 L418.62,216.70 L419.70,216.53 L420.79,216.37 L421.88,216.22 L422.97,216.07 L424.06,215.92 L425.15,215.78 L426.24,215.65 L427.33,215.52 L428.42,215.39 L429.50,215.26 L430.59,215.14 L431.68,215.03 L432.77,214.91 L433.86,214.81 L434.95,214.70 L436.04,214.60 L437.13,214.50 L438.22,214.40 L439.30,214.30 L440.39,214.21 L441.48,214.12 L442.57,214.04 L443.66,213.95 L444.75,213.87 L445.84,213.79 L446.93,213.71 L448.02,213.64 L449.10,213.56 L450.19,213.49 L451.28,213.42 L452.37,213.35 L453.46,213.29 L454.55,213.22 L455.64,213.16 L456.73,213.10 L457.82,213.04 L458.91,212.98 L459.99,212.92 L461.08,212.86 L462.17,212.81 L463.26,212.76 L464.35,212.70 L465.44,212.65 L466.53,212.60 L467.62,212.55 L468.71,212.50 L469.79,212.46 L470.88,212.41 L471.97,212.37 L473.06,212.32 L474.15,212.28 L475.24,212.24 L476.33,212.19 L477.42,212.15 L478.51,212.11 L479.59,212.07 L480.68,212.03 L481.77,211.99 L482.86,211.96 L483.95,211.92 L485.04,211.88 L486.13,211.85 L487.22,211.81 L488.31,211.78 L489.39,211.74 L490.48,211.71 L491.57,211.68 L492.66,211.64 L493.75,211.61 L494.84,211.58 L495.93,211.55 L497.02,211.52 L498.11,211.49 L499.20,211.46 L500.28,211.43 L501.37,211.40 L502.46,211.37 L503.55,211.34 L504.64,211.31 L505.73,211.28 L506.82,211.25 L507.91,211.22 L509.00,211.20 L510.08,211.17 L511.17,211.14 L512.26,211.12 L513.35,211.09 L514.44,211.06 L515.53,211.04 L516.62,211.01 L517.71,210.99 L518.80,210.96 L519.88,210.94 L520.97,210.91 L522.06,210.89 L523.15,210.86 L524.24,210.84 L525.33,210.82 L526.42,210.79 L527.51,210.77 L528.60,210.75 L529.68,210.72 L530.77,210.70 L531.86,210.68 L532.95,210.65 L534.04,210.63 L535.13,210.61 L536.22,210.59 L537.31,210.56 L538.40,210.54 L539.49,210.52 L540.57,210.50 L541.66,210.48 L542.75,210.45 L543.84,210.43 L544.93,210.41 L546.02,210.39 L547.11,210.37 L548.20,210.35 L549.29,210.33 L550.37,210.31 L551.46,210.29 L552.55,210.27 L553.64,210.24 L554.73,210.22 L555.82,210.20 L556.91,210.18 L558.00,210.16 L559.09,210.14 L560.17,210.12 L561.26,210.10 L562.35,210.08 L563.44,210.06 L564.53,210.04 L565.62,210.03 L566.71,210.01 L567.80,209.99 L568.89,209.97 L569.97,209.95 L571.06,209.93 L572.15,209.91 L573.24,209.89 L574.33,209.87 L575.42,209.85 L576.51,209.83 L577.60,209.82 L578.69,209.80 L579.78,209.78 L580.86,209.76 L581.95,209.74 L583.04,209.72 L584.13,209.71 L585.22,209.69 L586.31,209.67 L587.40,209.65 L588.49,209.63 L589.58,209.62 L590.66,209.60 L591.75,209.58 L592.84,209.56 L593.93,209.54 L595.02,209.53 L596.11,209.51 L597.20,209.49 L598.29,209.47 L599.38,209.46 L600.46,209.44 L601.55,209.42 L602.64,209.40 L603.73,209.39 L604.82,209.37 L605.91,209.35 L607.00,209.34 L608.09,209.32 L609.18,209.30 L610.26,209.29 L611.35,209.27 L612.44,209.25 L613.53,209.24 L614.62,209.22 L615.71,209.20 L616.80,209.19 L617.89,209.17 L618.98,209.15 L620.07,209.14 L621.15,209.12 L622.24,209.10 L623.33,209.09 L624.42,209.07 L625.51,209.05 L626.60,209.04 L627.69,209.02 L628.78,209.01 L629.87,208.99 L630.95,208.97 L632.04,208.96 L633.13,208.94 L634.22,208.93 L635.31,208.91 L636.40,208.90 L637.49,208.88 L638.58,208.86 L639.67,208.85 L640.75,208.83 L641.84,208.82 L642.93,208.80 L644.02,208.79 L645.11,208.77 L646.20,208.76 L647.29,208.74 L648.38,208.73 L649.47,208.71 L650.55,208.70 L651.64,208.68 L652.73,208.67 L653.82,208.65 L654.91,208.64 L656.00,208.62 L657.09,208.61 L658.18,208.59 L659.27,208.58 L660.36,208.56 L661.44,208.55 L662.53,208.53 L663.62,208.52 L664.71,208.50 L665.80,208.49 L666.89,208.47 L667.98,208.46 L669.07,208.45 L670.16,208.43 L671.24,208.42 L672.33,208.40 L673.42,208.39 L674.51,208.37 L675.60,208.36"/>
<path class="c" stroke="#c653f6" d="M381.57,238.83 L381.57,238.83 L381.58,238.83 L381.59,238.83 L381.60,238.83 L381.62,238.84 L381.64,238.84 L381.66,238.84 L381.69,238.85 L381.73,238.85 L381.76,238.85 L381.80,238.86 L381.85,238.86 L381.89,238.87 L381.95,238.88 L382.00,238.88 L382.06,238.89 L382.13,238.90 L382.19,238.91 L382.26,238.91 L382.34,238.92 L382.42,238.93 L382.50,238.94 L382.59,238.95 L382.68,238.96 L382.77,238.97 L382.87,238.97 L382.97,238.98 L383.08,238.99 L383.19,239.00 L383.30,239.01 L383.42,239.02 L383.54,239.02 L383.66,239.03 L383.79,239.04 L383.93,239.04 L384.06,239.05 L384.20,239.05 L384.35,239.05 L384.49,239.06 L384.65,239.06 L384.80,239.06 L384.96,239.05 L385.13,239.05 L385.29,239.05 L385.46,239.04 L385.64,239.03 L385.82,239.02 L386.00,239.01 L386.19,239.00 L386.38,238.98 L386.57,238.97 L386.77,238.95 L386.97,238.93 L387.18,238.90 L387.39,238.88 L387.60,238.85 L387.82,238.82 L388.04,238.79 L388.26,238.76 L388.49,238.72 L388.72,238.68 L388.96,238.64 L389.20,238.60 L389.45,238.55 L389.69,238.50 L389.95,238.45 L390.20,238.39 L390.46,238.34 L390.72,238.28 L390.99,238.21 L391.26,238.15 L391.54,238.08 L391.82,238.01 L392.10,237.93 L392.39,237.86 L392.68,237.78 L392.97,237.70 L393.27,237.61 L393.57,237.53 L394.66,237.21 L395.75,236.89 L396.84,236.57 L397.93,236.25 L399.01,235.94 L400.10,235.63 L401.19,235.32 L402.28,235.02 L403.37,234.72 L404.46,234.42 L405.55,234.12 L406.64,233.83 L407.73,233.54 L408.81,233.26 L409.90,232.97 L410.99,232.69 L412.08,232.41 L413.17,232.14 L414.26,231.87 L415.35,231.61 L416.44,231.34 L417.53,231.09 L418.62,230.84 L419.70,230.60 L420.79,230.37 L421.88,230.14 L422.97,229.92 L424.06,229.70 L425.15,229.49 L426.24,229.28 L427.33,229.07 L428.42,228.87 L429.50,228.67 L430.59,228.47 L431.68,228.27 L432.77,228.07 L433.86,227.87 L434.95,227.67 L436.04,227.47 L437.13,227.27 L438.22,227.08 L439.30,226.88 L440.39,226.68 L441.48,226.48 L442.57,226.29 L443.66,226.10 L444.75,225.91 L445.84,225.72 L446.93,225.53 L448.02,225.34 L449.10,225.16 L450.19,224.98 L451.28,224.80 L452.37,224.62 L453.46,224.45 L454.55,224.28 L455.64,224.11 L456.73,223.94 L457.82,223.77 L458.91,223.61 L459.99,223.45 L461.08,223.29 L462.17,223.14 L463.26,222.98 L464.35,222.83 L465.44,222.68 L466.53,222.54 L467.62,222.39 L468.71,222.25 L469.79,222.11 L470.88,221.97 L471.97,221.83 L473.06,221.70 L474.15,221.57 L475.24,221.43 L476.33,221.31 L477.42,221.18 L478.51,221.05 L479.59,220.93 L480.68,220.81 L481.77,220.69 L482.86,220.57 L483.95,220.45 L485.04,220.33 L486.13,220.22 L487.22,220.11 L488.31,219.99 L489.39,219.88 L490.48,219.78 L491.57,219.67 L492.66,219.56 L493.75,219.46 L494.84,219.35 L495.93,219.25 L497.02,219.15 L498.11,219.05 L499.20,218.95 L500.28,218.86 L501.37,218.76 L502.46,218.67 L503.55,218.57 L504.64,218.48 L505.73,218.39 L506.82,218.30 L507.91,218.21 L509.00,218.12 L510.08,218.03 L511.17,217.95 L512.26,217.86 L513.35,217.78 L514.44,217.70 L515.53,217.61 L516.62,217.53 L517.71,217.45 L518.80,217.37 L519.88,217.30 L520.97,217.22 L522.06,217.14 L523.15,217.07 L524.24,216.99 L525.33,216.92 L526.42,216.84 L527.51,216.77 L528.60,216.70 L529.68,216.63 L530.77,216.56 L531.86,216.49 L532.95,216.42 L534.04,216.35 L535.13,216.29 L536.22,216.22 L537.31,216.15 L538.40,216.09 L539.49,216.03 L540.57,215.96 L541.66,215.90 L542.75,215.84 L543.84,215.77 L544.93,215.71 L546.02,215.65 L547.11,215.59 L548.20,215.53 L549.29,215.47 L550.37,215.42 L551.46,215.36 L552.55,215.30 L553.64,215.24 L554.73,215.19 L555.82,215.13 L556.91,215.08 L558.00,215.02 L559.09,214.97 L560.17,214.92 L561.26,214.86 L562.35,214.81 L563.44,214.76 L564.53,214.71 L565.62,214.65 L566.71,214.60 L567.80,214.55 L568.89,214.50 L569.97,214.45 L571.06,214.41 L572.15,214.36 L573.24,214.31 L574.33,214.26 L575.42,214.21 L576.51,214.17 L577.60,214.12 L578.69,214.07 L579.78,214.03 L580.86,213.98 L581.95,213.94 L583.04,213.89 L584.13,213.85 L585.22,213.80 L586.31,213.76 L587.40,213.72 L588.49,213.67 L589.58,213.63 L590.66,213.59 L591.75,213.55 L592.84,213.51 L593.93,213.46 L595.02,213.42 L596.11,213.38 L597.20,213.34 L598.29,213.30 L599.38,213.26 L600.46,213.22 L601.55,213.18 L602.64,213.15 L603.73,213.11 L604.82,213.07 L605.91,213.03 L607.00,212.99 L608.09,212.95 L609.18,212.92 L610.26,212.88 L611.35,212.84 L612.44,212.81 L613.53,212.77 L614.62,212.73 L615.71,212.70 L616.80,212.66 L617.89,212.63 L618.98,212.59 L620.07,212.56 L621.15,212.52 L622.24,212.49 L623.33,212.45 L624.42,212.42 L625.51,212.39 L626.60,212.35 L627.69,212.32 L628.78,212.28 L629.87,212.25 L630.95,212.22 L632.04,212.19 L633.13,212.15 L634.22,212.12 L635.31,212.09 L636.40,212.06 L637.49,212.02 L638.58,211.99 L639.67,211.96 L640.75,211.93 L641.84,211.90 L642.93,211.87 L644.02,211.84 L645.11,211.80 L646.20,211.77 L647.29,211.74 L648.38,211.71 L649.47,211.68 L650.55,211.65 L651.64,211.62 L652.73,211.59 L653.82,211.56 L654.91,211.53 L656.00,211.50 L657.09,211.47 L658.18,211.45 L659.27,211.42 L660.36,211.39 L661.44,211.36 L662.53,211.33 L663.62,211.30 L664.71,211.27 L665.80,211.24 L666.89,211.22 L667.98,211.19 L669.07,211.16 L670.16,211.13 L671.24,211.10 L672.33,211.08 L673.42,211.05 L674.51,211.02 L675.60,210.99"/>
</g>
<text class="t b" transform="translate(0.6 9.9) scale(1 1.033)">a</text>
<text class="t b" transform="translate(351.6 9.9) scale(1 1.033)">b</text>
<text class="t" style="color:#53bbe9" transform="translate(116.0 43.5) scale(1 1.033)">No lining</text>
<text class="t" style="color:#e0b130" transform="translate(61.0 75.7) scale(1 1.033)">Aged lining</text>
<text class="t" style="color:#de6631" transform="translate(121.1 183.0) scale(1 1.033)">Benchmark</text>
<text class="t" style="color:#c653f6" transform="translate(243.4 208.9) scale(1 1.033)">Thick paint</text>
<text class="t" style="color:#53bbe9" transform="translate(464.8 158.9) scale(1 1.033)">No lining</text>
<text class="t" style="color:#e0b130" transform="translate(527.3 181.7) scale(1 1.033)">Aged lining</text>
<text class="t" style="color:#de6631" transform="translate(464.9 209.2) scale(1 1.033)">Benchmark</text>
<text class="t" style="color:#c653f6" transform="translate(602.5 229.6) scale(1 1.033)">Thick paint</text>
<g transform="translate(0,0)">
<path fill="#e67237" d="M223.9,156.40H318.4V172.4A47.25,2.50 0 0 1 223.9,172.4Z"/>
<path fill="#dbb030" d="M223.9,120.70H318.4V157.0A47.25,5.30 0 0 1 223.9,157.0Z"/>
<path fill="#d2d2d2" d="M223.9,89.00H318.4V121.3A47.25,5.00 0 0 1 223.9,121.3Z"/>
<path fill="#87391a" d="M223.9,76.90H318.4V89.6A47.25,1.50 0 0 1 223.9,89.6Z"/>
<path fill="#cc55ff" d="M223.9,70.30H318.4V77.5A47.25,1.50 0 0 1 223.9,77.5Z"/>
<path fill="#f1caae" d="M223.9,68.50H318.4V70.9A47.25,0.50 0 0 1 223.9,70.9Z"/>
<text class="d" style="color:#111" transform="translate(307.2 70.20) scale(1 1.033)">1</text>
<text class="d" style="color:#fff" transform="translate(307.1 78.50) scale(1 1.033)">2</text>
<text class="d" style="color:#fff" transform="translate(307.1 88.60) scale(1 1.033)">3</text>
<text class="d" style="color:#111" transform="translate(306.7 108.90) scale(1 1.033)">4</text>
<text class="d" style="color:#111" transform="translate(308.0 147.10) scale(1 1.033)">5</text>
<text class="d" style="color:#111" transform="translate(308.0 171.20) scale(1 1.033)">6</text>
</g>
<g transform="translate(337.2,-37.3)">
<path fill="#e67237" d="M223.9,156.40H318.4V172.8A47.25,2.50 0 0 1 223.9,172.8Z"/>
<path fill="#dbb030" d="M223.9,120.70H318.4V157.0A47.25,5.30 0 0 1 223.9,157.0Z"/>
<path fill="#d2d2d2" d="M223.9,89.00H318.4V121.3A47.25,5.00 0 0 1 223.9,121.3Z"/>
<path fill="#87391a" d="M223.9,76.90H318.4V89.6A47.25,1.50 0 0 1 223.9,89.6Z"/>
<path fill="#cc55ff" d="M223.9,70.30H318.4V77.5A47.25,1.50 0 0 1 223.9,77.5Z"/>
<path fill="#f1caae" d="M223.9,68.50H318.4V70.9A47.25,0.50 0 0 1 223.9,70.9Z"/>
<text class="d" style="color:#111" transform="translate(307.2 69.70) scale(1 1.033)">1</text>
<text class="d" style="color:#fff" transform="translate(307.1 78.00) scale(1 1.033)">2</text>
<text class="d" style="color:#fff" transform="translate(307.1 88.10) scale(1 1.033)">3</text>
<text class="d" style="color:#111" transform="translate(306.7 108.40) scale(1 1.033)">4</text>
<text class="d" style="color:#111" transform="translate(308.0 146.60) scale(1 1.033)">5</text>
<text class="d" style="color:#111" transform="translate(308.0 170.70) scale(1 1.033)">6</text>
</g>
<path fill="none" stroke="#000" stroke-width="1.1" d="M221.2,68.3H216.4V172.2H221.2M216.4,120.6H211.6"/>
<text class="t b" text-anchor="end" transform="translate(207.6 117.8) scale(1 1.033)">Global</text>
<text class="t b" text-anchor="end" transform="translate(207.6 132.5) scale(1 1.033)">concentration</text>
<text class="t b" text-anchor="end" transform="translate(516.2 35.1) scale(1 1.033)">Local</text>
<text class="t b" text-anchor="end" transform="translate(516.2 49.9) scale(1 1.033)">concentration</text>
<path fill="none" stroke="#000" stroke-width="1" d="M522.1,37.5H573"/>
<path fill="#000" d="M576.3,37.5L571.8,35.1V39.9Z"/>
</svg>
</body>
</html>
